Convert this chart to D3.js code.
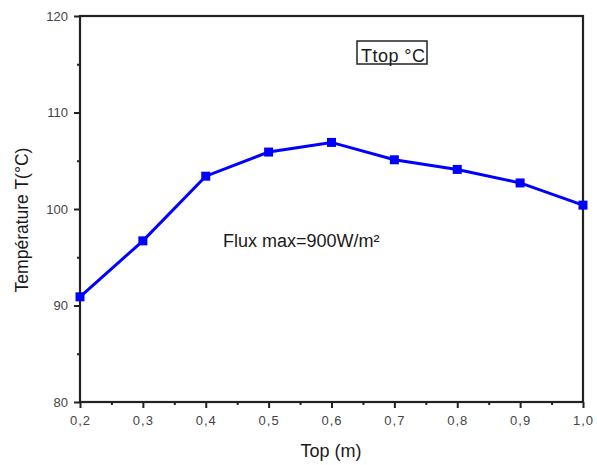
<!DOCTYPE html>
<html><head><meta charset="utf-8">
<script src="https://cdn.jsdelivr.net/npm/d3@7"></script>
<style>body{margin:0;background:#fff}svg{display:block}text{font-family:"Liberation Sans",Arial,sans-serif}</style>
</head><body><svg id="c" width="597" height="465"></svg>
<script>
const xValues = [0.2, 0.3, 0.4, 0.5, 0.6, 0.7, 0.8, 0.9, 1.0];
const tValues = [90.9, 96.7, 103.4, 105.9, 106.9, 105.1, 104.1, 102.7, 100.4];
const xTicks = [0.2, 0.3, 0.4, 0.5, 0.6, 0.7, 0.8, 0.9, 1.0];
const xMinorTicks = [0.25, 0.35, 0.45, 0.55, 0.65, 0.75, 0.85, 0.95];
const yTicks = [80, 90, 100, 110, 120];
const yMinorTicks = [85, 95, 105, 115];
const legendText = "Ttop °C";
const noteText = "Flux max=900W/m²";

const svg = d3.select("#c");
const L = 80, R = 583, T = 16, B = 402;
const x = d3.scaleLinear().domain([0.2, 1.0]).range([L, R]);
const y = d3.scaleLinear().domain([80, 120]).range([B, T]);
const fmt = d => d3.format(".1f")(d).replace(".", ",");

// frame
svg.append("rect").attr("x", L).attr("y", T).attr("width", R - L).attr("height", B - T)
  .attr("fill", "none").attr("stroke", "#222").attr("stroke-width", 2.2);

// x axis
const gx = svg.append("g").attr("transform", `translate(0,${B})`);
gx.call(d3.axisBottom(x).tickValues(xTicks).tickFormat(fmt).tickSize(6).tickPadding(8));
gx.append("g").call(d3.axisBottom(x).tickValues(xMinorTicks).tickFormat("").tickSize(3));
gx.selectAll(".tick text").attr("letter-spacing", 1);
// y axis
const gy = svg.append("g").attr("transform", `translate(${L},0)`);
gy.call(d3.axisLeft(y).tickValues(yTicks).tickSize(6).tickPadding(6));
gy.append("g").call(d3.axisLeft(y).tickValues(yMinorTicks).tickFormat("").tickSize(3));
svg.selectAll(".domain").remove();
svg.selectAll(".tick line").attr("stroke", "#222").attr("stroke-width", 2);
svg.selectAll(".tick text").attr("fill", "#444").attr("font-size", 13)
  .style("font-family", '"Liberation Sans",Arial,sans-serif');

// line
const data = xValues.map((v, i) => ({x: v, t: tValues[i]}));
svg.append("path").datum(data)
  .attr("fill", "none").attr("stroke", "#0000ff").attr("stroke-width", 3)
  .attr("d", d3.line().x(d => x(d.x)).y(d => y(d.t)));
svg.selectAll("rect.m").data(data).enter().append("rect").attr("class", "m")
  .attr("x", d => x(d.x) - 4.5).attr("y", d => y(d.t) - 4.5)
  .attr("width", 9).attr("height", 9).attr("fill", "#0000ff");

// axis titles
svg.append("text").attr("x", 331).attr("y", 457).attr("text-anchor", "middle")
  .attr("font-size", 18).attr("fill", "#1a1a1a").text("Top (m)");
svg.append("text").attr("transform", `translate(28,220) rotate(-90)`)
  .attr("text-anchor", "middle").attr("font-size", 17.5).attr("fill", "#1a1a1a").text("Température T(°C)");

// legend box
svg.append("rect").attr("x", 357).attr("y", 41).attr("width", 70).attr("height", 23)
  .attr("fill", "#fff").attr("stroke", "#222").attr("stroke-width", 1.5);
svg.append("text").attr("x", 361).attr("y", 61.5)
  .attr("font-size", 18).attr("fill", "#1a1a1a").attr("textLength", 64).text(legendText);

// note
svg.append("text").attr("x", 223).attr("y", 246.5).attr("font-size", 18).attr("fill", "#1a1a1a").text(noteText);
</script></body></html>
